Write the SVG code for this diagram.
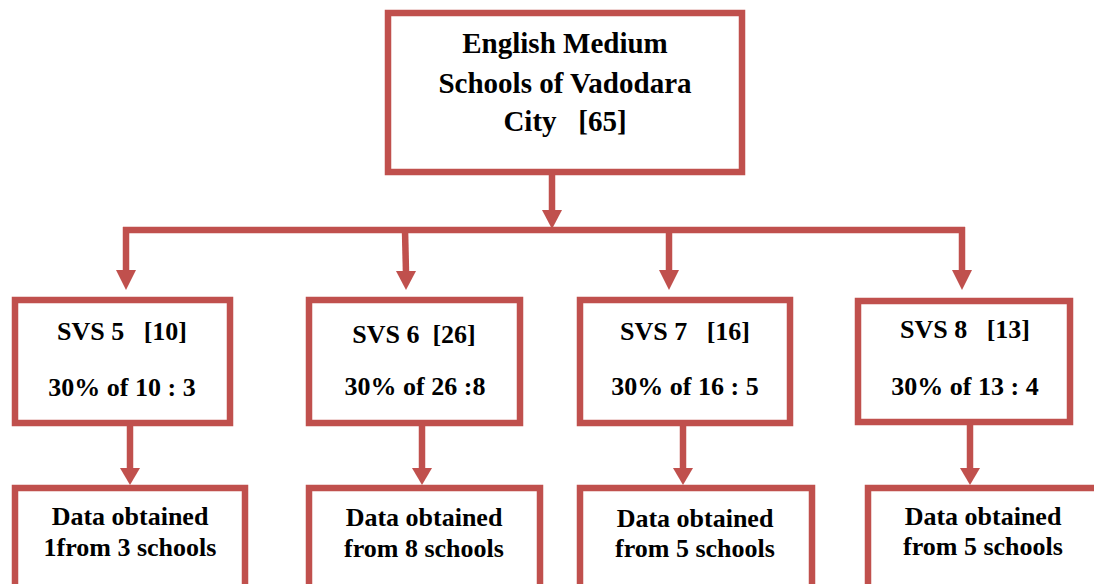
<svg xmlns="http://www.w3.org/2000/svg" width="1094" height="584" viewBox="0 0 1094 584">
<style>
.box{fill:#fff;stroke:#C0504D;stroke-width:6.5}
.ln{fill:none;stroke:#C0504D;stroke-width:6.5}
.ah{fill:#C0504D}
.t1{font-size:29px}
.t2{font-size:26px}
</style>
<rect width="1094" height="584" fill="#fff"/>
<g id="connectors">
<line class="ln" x1="552" y1="175" x2="552" y2="212"/>
<polygon class="ah" points="542,210 562,210 552,229"/>
<line class="ln" x1="123" y1="230" x2="965" y2="230"/>
<line class="ln" x1="126" y1="227" x2="126" y2="272"/>
<polygon class="ah" points="116,270 136,270 126,290"/>
<line class="ln" x1="405" y1="230" x2="406" y2="273"/>
<polygon class="ah" points="396,271 416,271 406,290"/>
<line class="ln" x1="669" y1="230" x2="669" y2="272"/>
<polygon class="ah" points="659,270 679,270 669,290"/>
<line class="ln" x1="962" y1="227" x2="962" y2="272"/>
<polygon class="ah" points="952,270 972,270 962,290"/>
<line class="ln" x1="130" y1="426" x2="130" y2="470"/>
<polygon class="ah" points="120,468 140,468 130,485"/>
<line class="ln" x1="422" y1="426" x2="422" y2="470"/>
<polygon class="ah" points="412,468 432,468 422,485"/>
<line class="ln" x1="683" y1="426" x2="683" y2="470"/>
<polygon class="ah" points="673,468 693,468 683,485"/>
<line class="ln" x1="970" y1="425" x2="970" y2="470"/>
<polygon class="ah" points="960,468 980,468 970,485"/>
</g>
<g font-family="'Liberation Serif', 'Times New Roman', 'DejaVu Serif', serif" font-weight="bold" fill="#000" text-anchor="middle">
<g id="root">
<rect class="box" x="388" y="13" width="354" height="159"/>
<text class="t1" x="565" y="53">English Medium</text>
<text class="t1" x="565" y="93">Schools of Vadodara</text>
<text class="t1" x="565" y="131" xml:space="preserve">City   [65]</text>
</g>
<g id="svs5">
<rect class="box" x="15" y="300" width="215" height="123"/>
<text class="t2" x="122" y="340" xml:space="preserve">SVS 5   [10]</text>
<text class="t2" x="122" y="396">30% of 10 : 3</text>
</g>
<g id="svs6">
<rect class="box" x="309" y="300" width="211" height="123"/>
<text class="t2" x="414" y="343" xml:space="preserve">SVS 6  [26]</text>
<text class="t2" x="415" y="395">30% of 26 :8</text>
</g>
<g id="svs7">
<rect class="box" x="580" y="300" width="210" height="123"/>
<text class="t2" x="685" y="340" xml:space="preserve">SVS 7   [16]</text>
<text class="t2" x="685" y="395">30% of 16 : 5</text>
</g>
<g id="svs8">
<rect class="box" x="858" y="301" width="212" height="121"/>
<text class="t2" x="965" y="338" xml:space="preserve">SVS 8   [13]</text>
<text class="t2" x="965" y="395">30% of 13 : 4</text>
</g>
<g id="data5">
<rect class="box" x="15" y="488" width="230" height="110"/>
<text class="t2" x="130" y="525">Data obtained</text>
<text class="t2" x="130" y="556">1from 3 schools</text>
</g>
<g id="data6">
<rect class="box" x="309" y="488" width="231" height="110"/>
<text class="t2" x="424" y="526">Data obtained</text>
<text class="t2" x="424" y="557">from 8 schools</text>
</g>
<g id="data7">
<rect class="box" x="580" y="488" width="232" height="110"/>
<text class="t2" x="695" y="527">Data obtained</text>
<text class="t2" x="695" y="557">from 5 schools</text>
</g>
<g id="data8">
<rect class="box" x="868" y="488" width="240" height="110"/>
<text class="t2" x="983" y="525">Data obtained</text>
<text class="t2" x="983" y="555">from 5 schools</text>
</g>
</g>
</svg>
